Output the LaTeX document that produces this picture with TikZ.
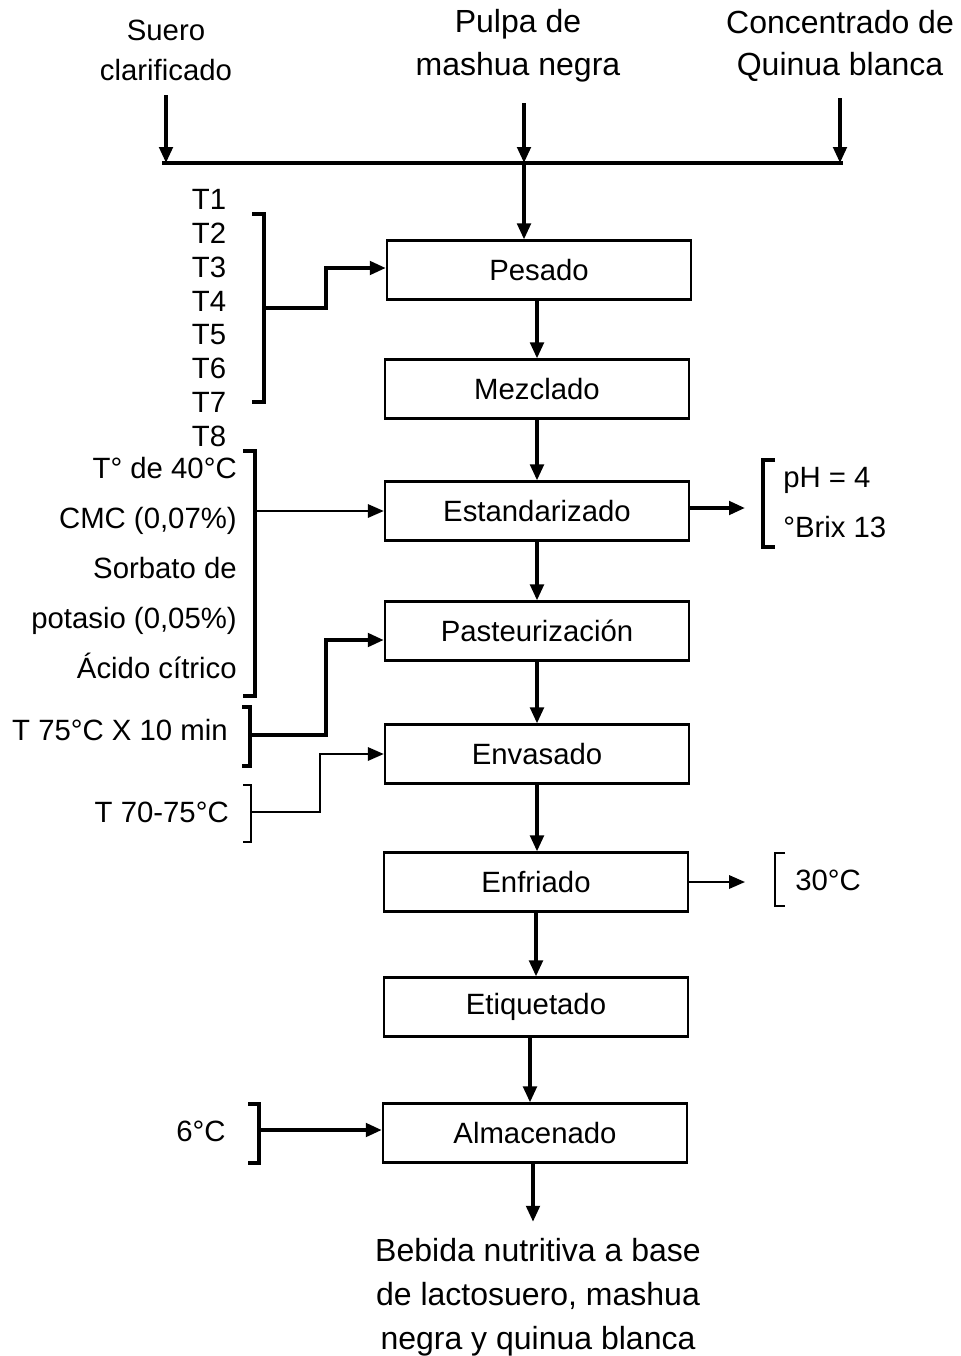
\documentclass[tikz,border=0pt]{standalone}
\usepackage{fontspec}
\setmainfont{Liberation Sans}
\usetikzlibrary{positioning, arrows.meta}

\begin{document}
\begin{tikzpicture}[
    x=0.75pt, y=-0.75pt,
    every node/.style={inner sep=0pt, font=\fontsize{22}{30}\selectfont},
    big/.style={font=\fontsize{24}{32}\selectfont},
    stage/.style={draw, line width=1.8pt, minimum width=228pt, minimum height=44pt},
    flow/.style={line width=2.8pt, -{Triangle[length=12pt, width=10pt]}},
    feed/.style={line width=1.7pt, -{Triangle[length=12pt, width=10pt]}},
    brace/.style={line width=2.8pt},
    thinbrace/.style={line width=1.9pt}
]
\useasboundingbox (0,0) rectangle (960,1356);

% raw materials
\node[align=center] (suero) at (166,50) {Suero\\clarificado};
\node[align=center, big] (pulpa) at (518,46) {Pulpa de\\mashua negra};
\node[align=center, big] (conc) at (840,46) {Concentrado de\\Quinua blanca};

\coordinate (inS) at (166,95);
\coordinate (inP) at (524,103);
\coordinate (inC) at (840,98);
\coordinate (bl) at (162,163);
\coordinate (br) at (843,163);
\coordinate (bm) at (524,163);

% process stages
\node[stage] (pesado) at (539,270) {Pesado};
\node[stage] (mezcla) at (537,389) {Mezclado};
\node[stage] (estand) at (537,511) {Estandarizado};
\node[stage] (pasteu) at (537,631) {Pasteurización};
\node[stage] (envasa) at (537,754) {Envasado};
\node[stage] (enfria) at (536,882) {Enfriado};
\node[stage] (etique) at (536,1007) {Etiquetado};
\node[stage] (almace) at (535,1133) {Almacenado};
\node[align=center, font=\fontsize{24}{33}\selectfont] (prod) at (538,1297) {Bebida nutritiva a base\\de lactosuero, mashua\\negra y quinua blanca};

% side conditions
\node[align=center, font=\fontsize{22}{25.3}\selectfont] (trat) at (209,318) {T1\\T2\\T3\\T4\\T5\\T6\\T7\\T8};
\node[anchor=east, align=right, font=\fontsize{22}{37.5}\selectfont] (aditiv) at (237,568) {T° de 40°C\\CMC (0,07\%)\\Sorbato de\\potasio (0,05\%)\\Ácido cítrico};
\node[anchor=east] (tpast) at (228,730) {T 75°C X 10 min};
\node[anchor=east] (tenv) at (229,812) {T 70-75°C};
\node (tfrio) at (201,1131) {6°C};
\node[anchor=west, align=left, font=\fontsize{22}{37.5}\selectfont] (ph) at (783,503) {pH = 4\\°Brix 13};
\node[anchor=west] (tenf) at (795,880) {30°C};

\coordinate (tratm) at (264,308);
\coordinate (aditm) at (255,511);
\coordinate (pastm) at (250,735);
\coordinate (envm) at (251,812);
\coordinate (frim) at (259,1130);
\coordinate (phin) at (745,508);
\coordinate (tin) at (745,882);

% feed line
\draw[flow] (inS) -- (inS |- bl);
\draw[flow] (inP) -- (bm);
\draw[flow] (inC) -- (inC |- br);
\draw[brace] (bl) -- (br);
\draw[flow] (bm) -- (bm |- pesado.north);

% main flow
\draw[flow] (pesado.south -| mezcla) -- (mezcla.north);
\draw[flow] (mezcla) -- (estand);
\draw[flow] (estand.south) -- (pasteu.north);
\draw[flow] (pasteu.south) -- (envasa.north);
\draw[flow] (envasa.south) -- (envasa.south |- enfria.north);
\draw[flow] (enfria.south) -- (etique.north);
\draw[flow] ([xshift=-4.5pt]etique.south) -- ([xshift=-4.5pt]etique.south |- almace.north);
\draw[flow, shorten >=12pt] ([xshift=-1.5pt]almace.south) -- ([xshift=-1.5pt]almace.south |- prod.north);

% brackets
\draw[brace] (252,214) -- (264,214) -- (264,402) -- (252,402);
\draw[brace] (243,451) -- (255,451) -- (255,696) -- (243,696);
\draw[brace] (242,707) -- (250,707) -- (250,766) -- (242,766);
\draw[thinbrace] (243,785) -- (251,785) -- (251,842) -- (243,842);
\draw[brace] (248,1104) -- (259,1104) -- (259,1163) -- (248,1163);
\draw[brace] (775,460) -- (763,460) -- (763,547) -- (775,547);
\draw[thinbrace] (785,853) -- (775,853) -- (775,906) -- (785,906);

% inputs and outputs
\draw[flow] (tratm) -- ++(62,0) |- ([yshift=1.5pt]pesado.west);
\draw[feed] (aditm) -- (estand.west);
\draw[flow] (pastm) -- ++(76,0) |- ([yshift=-6.75pt]pasteu.west);
\draw[feed] (envm) -- ++(69,0) |- (envasa.west);
\draw[flow] (frim) -- (frim -| almace.west);
\draw[flow] (estand.east |- phin) -- (phin);
\draw[feed] (enfria.east) -- (tin);
\end{tikzpicture}
\end{document}
